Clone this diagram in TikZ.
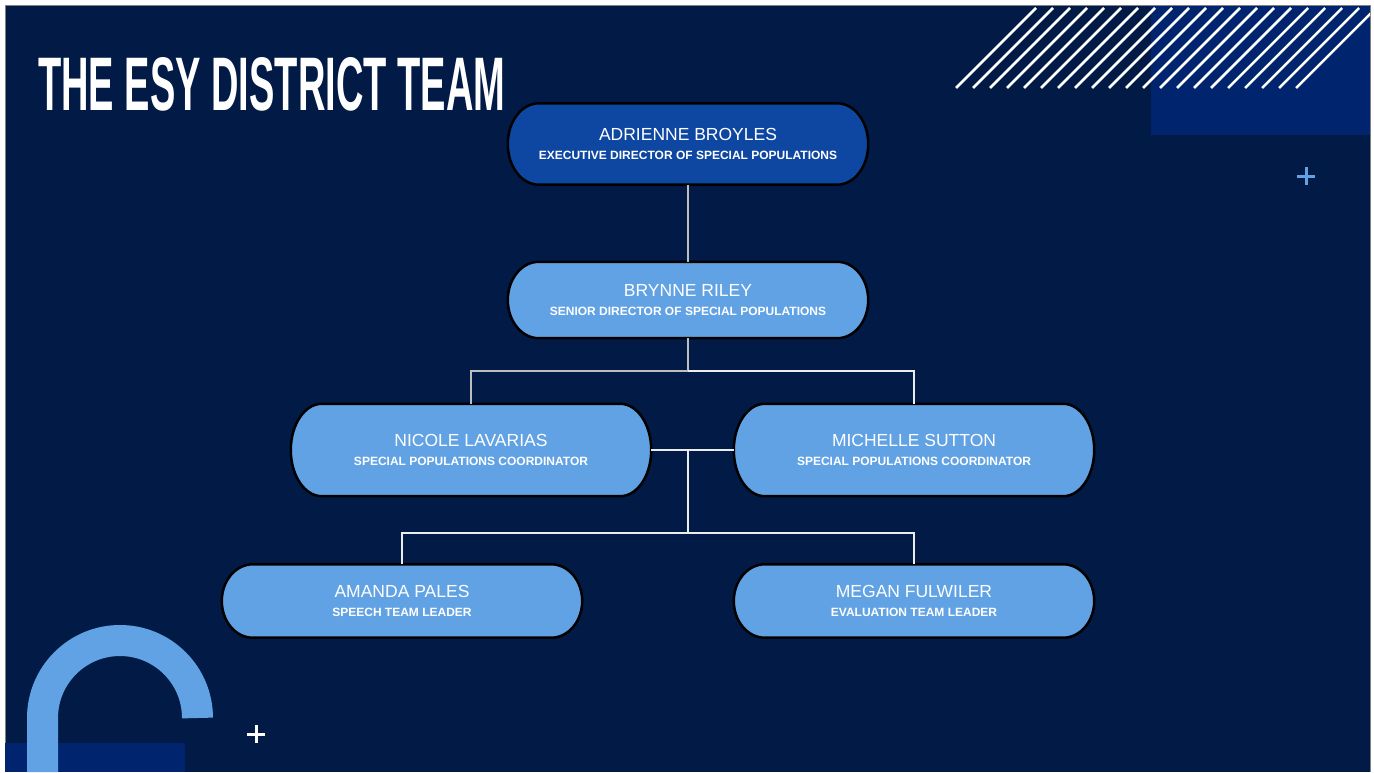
\documentclass[tikz,border=0pt]{standalone}
\usepackage{fontspec}
\setmainfont{Liberation Sans}
\usetikzlibrary{positioning,calc,backgrounds}
\pgfdeclarelayer{pills}
\pgfsetlayers{background,pills,main}
\definecolor{navy}{RGB}{1,27,70}
\definecolor{deepblue}{RGB}{0,37,110}
\definecolor{topblue}{RGB}{13,71,161}
\definecolor{paleblue}{RGB}{96,162,228}
\definecolor{wire}{RGB}{190,190,190}
\newcommand{\who}[2]{#1\\{\fontsize{12}{14}\selectfont\bfseries #2}}

\begin{document}
\begin{tikzpicture}[x=1pt,y=1pt,every node/.style={text=white},
   pill/.style={rectangle,minimum width=360pt,inner sep=0pt,align=center,
     font=\fontsize{17.5}{19.5}\selectfont},
   ln/.style={draw=wire,line width=2.6pt},
   thin/.style={draw=white!85!gray,line width=1.4pt}]
  \useasboundingbox (0,0) rectangle (1374,-772);
  \begin{pgfonlayer}{background}
    \fill[white] (0,0) rectangle (1374,-772);
    \fill[navy] (5,-5) rectangle (1370,-772);
    \draw[gray,line width=1pt] (5,-772) -- (5,-5) -- (1370,-5) -- (1370,-772);
    \fill[deepblue] (1151,-6) rectangle (1370,-135);
    \begin{scope}
      \clip (5,-6) rectangle (1370,-135);
      \foreach \i in {0,...,20}
        \draw[white,line width=2.5pt] (956+17*\i,-88) -- ++(80,80);
    \end{scope}
    \draw[paleblue,line width=3pt] (1297,-176) -- (1315,-176) (1306,-167) -- (1306,-185);
    \fill[deepblue] (5,-743) rectangle (185,-772);
    \draw[paleblue,line width=31pt] (42.5,-772) -- (42.5,-718) arc[start angle=180,end angle=0,radius=77.5pt];
    \draw[white,line width=3pt] (247,-734) -- (265,-734) (256,-725) -- (256,-743);
  \end{pgfonlayer}
  \node[anchor=north west,inner sep=0pt] (title) at (38,-57)
    {\resizebox{467pt}{53pt}{\bfseries THE ESY DISTRICT TEAM}};

  \node[pill,minimum height=81pt] (adr) at (688,-144)
    {\who{ADRIENNE BROYLES}{EXECUTIVE DIRECTOR OF SPECIAL POPULATIONS}};
  \node[pill,minimum height=76pt] (bry) at (688,-300)
    {\who{BRYNNE RILEY}{SENIOR DIRECTOR OF SPECIAL POPULATIONS}};
  \node[pill,minimum height=92pt] (nic) at (471,-450)
    {\who{NICOLE LAVARIAS}{SPECIAL POPULATIONS COORDINATOR}};
  \node[pill,minimum height=92pt] (mic) at (914,-450)
    {\who{MICHELLE SUTTON}{SPECIAL POPULATIONS COORDINATOR}};
  \node[pill,minimum height=73pt] (ama) at (402,-601)
    {\who{AMANDA PALES}{SPEECH TEAM LEADER}};
  \node[pill,minimum height=73pt] (meg) at (914,-601)
    {\who{MEGAN FULWILER}{EVALUATION TEAM LEADER}};

  % pill outlines with oval ends, behind the text
  \begin{pgfonlayer}{pills}
    \foreach \k/\c in {adr/topblue,bry/paleblue,nic/paleblue,mic/paleblue,ama/paleblue,meg/paleblue}
      \draw[line width=2.5pt,fill=\c] let \p1=(\k.north),\p2=(\k.south),\n1={(\y1-\y2)/2} in
        ([xshift=31pt]\k.north west) -- ([xshift=-31pt]\k.north east)
        arc[start angle=90,end angle=-90,x radius=31pt,y radius=\n1]
        -- ([xshift=31pt]\k.south west)
        arc[start angle=270,end angle=90,x radius=31pt,y radius=\n1] -- cycle;
  \end{pgfonlayer}

  \coordinate (k1) at (688,-371);
  \coordinate (k2) at (688,-450);
  \coordinate (k3) at (688,-533);
  \draw[ln] (adr) -- (bry);
  \draw[ln] (bry) -- (k1) -| (nic);
  \draw[thin] (k1) -| (mic);
  \draw[thin] (nic) -- (mic);
  \draw[thin] (k2) -- (k3) -| (ama);
  \draw[thin] (k3) -| (meg);
\end{tikzpicture}
\end{document}
